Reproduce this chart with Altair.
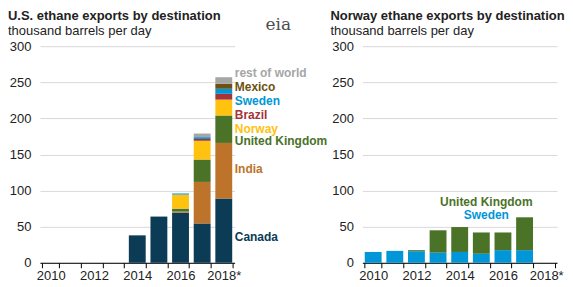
import altair as alt
import pandas as pd

years = ["2010", "2011", "2012", "2013", "2014", "2015", "2016", "2017", "2018*"]

# U.S. ethane exports (thousand b/d) by destination
us_series = ["Canada", "India", "United Kingdom", "Norway", "Brazil", "Sweden", "Mexico", "rest of world"]
us_canada = [0, 0, 0, 0, 38, 64, 69.5, 54.5, 89]
us_india = [0, 0, 0, 0, 0, 0, 1.5, 57.5, 77]
us_uk = [0, 0, 0, 0, 0, 0, 4, 31, 38]
us_norway = [0, 0, 0, 0, 0, 0, 19.5, 26, 22]
us_brazil = [0, 0, 0, 0, 0, 0, 0, 2.5, 8]
us_sweden = [0, 0, 0, 0, 0, 0, 1.5, 2.5, 7]
us_mexico = [0, 0, 0, 0, 0, 0, 0, 0, 7]
us_rest = [0, 0, 0, 0, 0, 0, 0, 5, 9]

# Norway ethane exports by destination
no_series = ["Sweden", "United Kingdom"]
no_sweden = [15, 16.5, 16, 14, 15, 12.5, 17.5, 17.5, 0]
no_uk = [0, 0, 1.5, 31, 34.5, 29.5, 24.5, 45.5, 0]

colors = {
    "Canada": "#0b3b55",
    "India": "#bd732a",
    "United Kingdom": "#4a7328",
    "Norway": "#ffc20e",
    "Brazil": "#a4343a",
    "Sweden": "#0096d7",
    "Mexico": "#6b5213",
    "rest of world": "#a6a6a6",
}

# direct labels (value positions)
us_label_names = ["rest of world", "Mexico", "Sweden", "Brazil", "Norway", "United Kingdom", "India", "Canada"]
us_label_y = [263, 243, 224, 204.5, 185.5, 168, 129.5, 35.5]
no_label_names = ["United Kingdom", "Sweden"]
no_label_y = [83.5, 65.5]

titles_left = ["U.S. ethane exports by destination", "thousand barrels per day"]
titles_right = ["Norway ethane exports by destination", "thousand barrels per day"]
y_ticks = [0, 50, 100, 150, 200, 250, 300]

us_vals = [us_canada, us_india, us_uk, us_norway, us_brazil, us_sweden, us_mexico, us_rest]
us_rows = []
for i, s in enumerate(us_series):
    for y, v in zip(years, us_vals[i]):
        us_rows.append({"year": y, "series": s, "value": v, "order": i})
us_df = pd.DataFrame(us_rows)

no_vals = [no_sweden, no_uk]
no_rows = []
for i, s in enumerate(no_series):
    for y, v in zip(years, no_vals[i]):
        no_rows.append({"year": y, "series": s, "value": v, "order": i})
no_df = pd.DataFrame(no_rows)

us_lab = pd.DataFrame({"series": us_label_names, "value": us_label_y, "year": "2018*"})
no_lab = pd.DataFrame({"series": no_label_names, "value": no_label_y, "year": "2015"})

FONT = "Liberation Sans"
color_scale = alt.Scale(domain=list(colors.keys()), range=list(colors.values()))
H = 217
W = 195

x_axis = alt.Axis(
    title=None,
    labelAngle=0,
    tickBand="extent",
    domainColor="#000000",
    tickColor="#000000",
    tickSize=5,
    labelFontSize=13,
    labelColor="#222222",
    labelPadding=2,
    labelExpr="indexof(['2010','2012','2014','2016','2018*'], datum.value) >= 0 ? datum.value : ''",
    grid=False,
)
x_scale = alt.Scale(domain=years, paddingInner=0.22, paddingOuter=0.11)

y_axis = alt.Axis(
    title=None,
    values=y_ticks,
    domain=False,
    ticks=False,
    labelFontSize=13,
    labelColor="#222222",
    labelPadding=9,
    labelOverlap=False,
    gridColor="#d9d9d9",
)
y_scale = alt.Scale(domain=[0, 300])

def title_layer(texts):
    bold = alt.Chart(pd.DataFrame({"t": [texts[0]]})).mark_text(
        font=FONT, fontSize=13, fontWeight="bold", color="#222222", align="left", baseline="middle"
    ).encode(text="t:N", x=alt.value(-32), y=alt.value(-30))
    sub = alt.Chart(pd.DataFrame({"t": [texts[1]]})).mark_text(
        font=FONT, fontSize=13, color="#222222", align="left", baseline="middle"
    ).encode(text="t:N", x=alt.value(-32), y=alt.value(-15))
    return bold, sub

def panel(df, lab, texts, label_align, label_dx, extra=None):
    bars = alt.Chart(df).mark_bar().encode(
        x=alt.X("year:N", sort=years, scale=x_scale, axis=x_axis),
        y=alt.Y("value:Q", stack="zero", scale=y_scale, axis=y_axis),
        color=alt.Color("series:N", scale=color_scale, legend=None),
        order=alt.Order("order:Q"),
    )
    labels = alt.Chart(lab).mark_text(
        align=label_align, baseline="middle", fontWeight="bold", fontSize=12, font=FONT, dx=label_dx
    ).encode(
        x=alt.X("year:N", sort=years, scale=x_scale, axis=x_axis),
        y=alt.Y("value:Q", scale=y_scale, axis=y_axis),
        text="series:N",
        color=alt.Color("series:N", scale=color_scale, legend=None),
    )
    b, s = title_layer(texts)
    layers = [bars, labels, b, s]
    if extra is not None:
        layers.append(extra)
    return alt.layer(*layers).properties(width=W, height=H)

logo = alt.Chart(pd.DataFrame({"t": ["eia"]})).mark_text(
    font="DejaVu Serif", fontSize=17, color="#4d4d4d", align="left", baseline="middle"
).encode(text="t:N", x=alt.value(226), y=alt.value(-21))

left = panel(us_df, us_lab, titles_left, "left", 11, logo)
right = panel(no_df, no_lab, titles_right, "center", 5)

chart = alt.hconcat(left, right, spacing=128, bounds="flush").configure(
    font=FONT,
    padding={"left": 0, "top": 2, "right": 0, "bottom": 0},
).configure_view(stroke=None)

chart.save("out.html", embed_options={"renderer": "svg", "actions": False})
